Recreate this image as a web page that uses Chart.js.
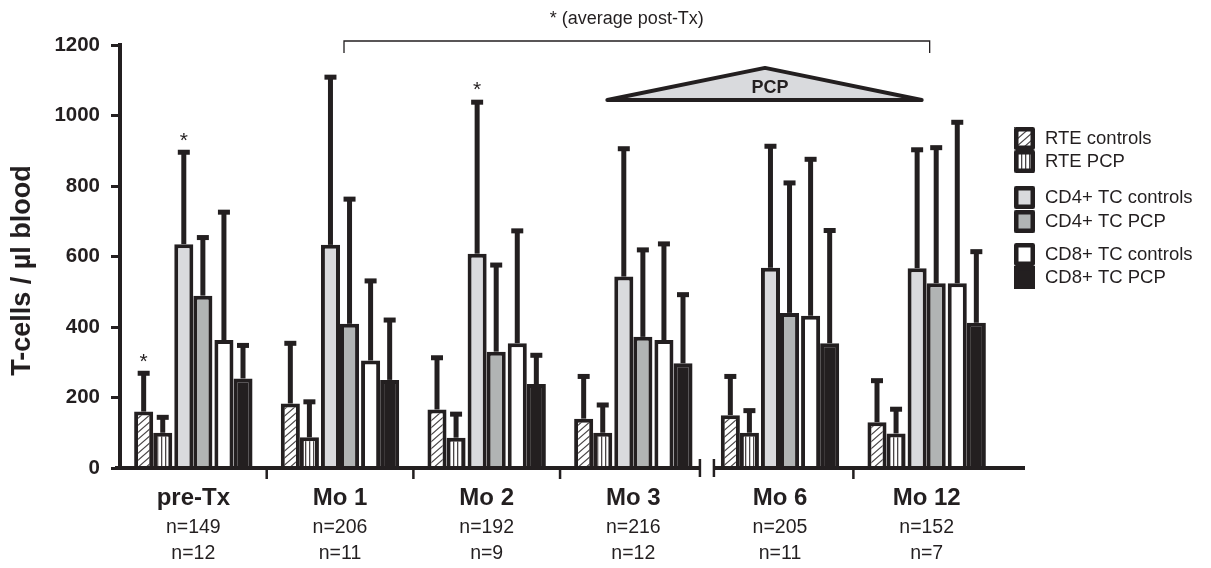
<!DOCTYPE html>
<html>
<head>
<meta charset="utf-8">
<script src="https://cdn.jsdelivr.net/npm/chart.js@4.4.0/dist/chart.umd.min.js"></script>
<style>
  html, body { margin: 0; padding: 0; background: #fff; }
  canvas { display: block; }
</style>
</head>
<body>
<canvas id="tcellBars" width="1211" height="568"></canvas>
<script>
const timepoints = ['pre-Tx', 'Mo 1', 'Mo 2', 'Mo 3', 'Mo 6', 'Mo 12'];
const nControls = ['n=149', 'n=206', 'n=192', 'n=216', 'n=205', 'n=152'];
const nPcp = ['n=12', 'n=11', 'n=9', 'n=12', 'n=11', 'n=7'];

// mean cells / µl
const rteControls = [160, 183, 166, 140, 150, 130];
const rtePcp = [100, 87, 86, 100, 100, 98];
const cd4Controls = [635, 633, 608, 543, 568, 567];
const cd4Pcp = [489, 409, 330, 372, 440, 524];
const cd8Controls = [363, 305, 354, 363, 432, 524];
const cd8Pcp = [254, 250, 238, 297, 354, 412];

// upper end of the error bars
const rteControlsTop = [273, 358, 317, 264, 264, 252];
const rtePcpTop = [148, 192, 157, 183, 167, 171];
const cd4ControlsTop = [900, 1113, 1042, 910, 917, 907];
const cd4PcpTop = [658, 767, 580, 623, 813, 913];
const cd8ControlsTop = [730, 535, 677, 640, 880, 985];
const cd8PcpTop = [352, 424, 324, 496, 678, 618];

// significance stars: [series, timepoint]
const stars = [[0, 0], [2, 0], [2, 2]];

const INK = '#231f20';
const FONT = "'Liberation Sans', Arial, Helvetica, sans-serif";

function makePattern(kind) {
    const c = document.createElement('canvas');
    const g = c.getContext('2d');
    if (kind === 'diag') {
        c.width = 8; c.height = 7;
        g.fillStyle = '#fff';
        g.fillRect(0, 0, 8, 7);
        g.strokeStyle = '#4a4647';
        g.lineWidth = 1.2;
        g.beginPath();
        g.moveTo(0, 7); g.lineTo(8, 0);
        g.moveTo(-1, 1); g.lineTo(1, -1);
        g.moveTo(7, 8); g.lineTo(9, 6);
        g.stroke();
    } else {
        c.width = 4; c.height = 4;
        g.fillStyle = '#fff';
        g.fillRect(0, 0, 4, 4);
        g.fillStyle = '#4a4647';
        g.fillRect(1, 0, 1.3, 4);
    }
    return g.createPattern(c, 'repeat');
}

const diagFill = makePattern('diag');
const vertFill = makePattern('vert');

const datasets = [
    { label: 'RTE controls', data: rteControls, errTop: rteControlsTop, backgroundColor: diagFill },
    { label: 'RTE PCP', data: rtePcp, errTop: rtePcpTop, backgroundColor: vertFill },
    { label: 'CD4+ TC controls', data: cd4Controls, errTop: cd4ControlsTop, backgroundColor: '#d9dadd' },
    { label: 'CD4+ TC PCP', data: cd4Pcp, errTop: cd4PcpTop, backgroundColor: '#b1b4b4' },
    { label: 'CD8+ TC controls', data: cd8Controls, errTop: cd8ControlsTop, backgroundColor: '#ffffff' },
    { label: 'CD8+ TC PCP', data: cd8Pcp, errTop: cd8PcpTop, backgroundColor: INK }
].map(d => Object.assign(d, {
    borderColor: INK,
    borderWidth: 4,
    borderSkipped: 'bottom',
    barPercentage: 1,
    categoryPercentage: 0.78,
    inflateAmount: 0
}));

// nudge the three pairs apart a little (pairs touch, small gap between pairs)
const pairGap = {
    id: 'pairGap',
    afterDatasetsUpdate(chart) {
        const shift = [-2, -2, 0, 0, 2, 2];
        chart.data.datasets.forEach((ds, i) => {
            chart.getDatasetMeta(i).data.forEach(bar => { bar.x += shift[i]; });
        });
    }
};

// error bars + stars
const errorBars = {
    id: 'errorBars',
    afterDatasetsDraw(chart) {
        const ctx = chart.ctx;
        const y = chart.scales.y;
        ctx.save();
        ctx.fillStyle = INK;
        chart.data.datasets.forEach((ds, i) => {
            chart.getDatasetMeta(i).data.forEach((bar, j) => {
                const top = y.getPixelForValue(ds.errTop[j]);
                ctx.fillRect(bar.x - 2.5, top, 5, bar.y - top);
                ctx.fillRect(bar.x - 6, top - 1, 12, 5);
            });
        });
        ctx.font = '21px ' + FONT;
        ctx.textAlign = 'center';
        ctx.textBaseline = 'middle';
        stars.forEach(([i, j]) => {
            const bar = chart.getDatasetMeta(i).data[j];
            const top = y.getPixelForValue(chart.data.datasets[i].errTop[j]);
            ctx.fillText('*', bar.x, top - 10);
        });
        ctx.restore();
    }
};

// x axis with break, tick marks and n= lines, y title
const axisDecor = {
    id: 'axisDecor',
    afterDatasetsDraw(chart) {
        const ctx = chart.ctx;
        const x = chart.scales.x;
        const area = chart.chartArea;
        const base = area.bottom;
        const cx = i => x.getPixelForValue(i);
        const brk = (cx(3) + cx(4)) / 2;
        ctx.save();
        ctx.fillStyle = INK;
        ctx.fillRect(area.left - 5, base - 2, brk - 7 - area.left + 5, 4);
        ctx.fillRect(brk + 7, base - 2, area.right + 25 - brk - 7, 4);
        ctx.fillRect(brk - 8, base - 9, 2.5, 18);
        ctx.fillRect(brk + 6, base - 9, 2.5, 18);
        [0, 1, 2, 4].forEach(i => {
            const bx = (cx(i) + cx(i + 1)) / 2;
            ctx.fillRect(bx - 1.2, base, 2.5, 11);
        });
        ctx.font = '19.5px ' + FONT;
        ctx.textAlign = 'center';
        ctx.textBaseline = 'middle';
        timepoints.forEach((t, i) => {
            ctx.fillText(nControls[i], cx(i), 528);
            ctx.fillText(nPcp[i], cx(i), 554);
        });

        ctx.translate(23, (area.top + area.bottom) / 2 + 14);
        ctx.rotate(-Math.PI / 2);
        ctx.font = 'bold 27px ' + FONT;
        ctx.fillText('T-cells / µl blood', 0, 0);
        ctx.restore();
    }
};

// bracket, PCP wedge and legend
const annotations = {
    id: 'annotations',
    afterDraw(chart) {
        const ctx = chart.ctx;
        const x = chart.scales.x;
        const y = chart.scales.y;
        const top = chart.chartArea.top;
        ctx.save();
        ctx.strokeStyle = INK;
        ctx.fillStyle = INK;

        const bl = x.getPixelForValue(1) + 4;
        const br = x.getPixelForValue(5) + 3;
        ctx.lineWidth = 1.3;
        ctx.beginPath();
        ctx.moveTo(bl, top + 8);
        ctx.lineTo(bl, top - 4);
        ctx.lineTo(br, top - 4);
        ctx.lineTo(br, top + 8);
        ctx.stroke();
        ctx.font = '18px ' + FONT;
        ctx.textAlign = 'center';
        ctx.textBaseline = 'middle';
        ctx.fillText('* (average post-Tx)', (bl + br) / 2 - 10, top - 26);

        const tl = x.getPixelForValue(3) - 26;
        const tr = x.getPixelForValue(5) - 5;
        const apexX = x.getPixelForValue(4) - 15;
        const apexY = y.getPixelForValue(1135);
        const baseY = y.getPixelForValue(1044);
        ctx.beginPath();
        ctx.moveTo(tl, baseY);
        ctx.lineTo(apexX, apexY);
        ctx.lineTo(tr, baseY);
        ctx.closePath();
        ctx.fillStyle = '#d9dadd';
        ctx.fill();
        ctx.lineWidth = 4;
        ctx.lineJoin = 'round';
        ctx.stroke();
        ctx.fillStyle = INK;
        ctx.font = 'bold 18px ' + FONT;
        ctx.fillText('PCP', apexX + 5, baseY - 12);

        // legend
        const rows = [138, 161, 197, 221, 254, 277];
        ctx.font = '18.5px ' + FONT;
        ctx.textAlign = 'left';
        chart.data.datasets.forEach((ds, i) => {
            const cy = rows[i];
            ctx.fillStyle = ds.backgroundColor;
            ctx.fillRect(1014, cy - 11, 21, 23);
            ctx.lineWidth = 4.5;
            ctx.strokeStyle = INK;
            ctx.strokeRect(1014 + 2.25, cy - 11 + 2.25, 21 - 4.5, 23 - 4.5);
            ctx.fillStyle = INK;
            ctx.fillText(ds.label, 1045, cy + 1);
        });
        ctx.restore();
    }
};

new Chart(document.getElementById('tcellBars'), {
    type: 'bar',
    data: { labels: timepoints, datasets: datasets },
    options: {
        responsive: false,
        animation: false,
        devicePixelRatio: 1,
        layout: { padding: { left: 0, top: 45, right: 211, bottom: 0 } },
        plugins: { legend: { display: false }, tooltip: { enabled: false } },
        scales: {
            x: {
                grid: { display: false, drawTicks: false },
                border: { display: false },
                ticks: {
                    color: INK,
                    padding: 16,
                    font: { family: FONT, size: 24, weight: 'bold' }
                },
                afterFit: s => { s.height = 100; }
            },
            y: {
                min: 0,
                max: 1200,
                grid: { drawOnChartArea: false, drawTicks: true, tickLength: 9, tickWidth: 3, color: INK },
                border: { display: true, width: 4, color: INK },
                ticks: {
                    stepSize: 200,
                    color: INK,
                    padding: 11,
                    font: { family: FONT, size: 20.5, weight: 'bold' },
                    callback: v => String(v)
                },
                afterFit: s => { s.width = 120; }
            }
        }
    },
    plugins: [pairGap, errorBars, axisDecor, annotations]
});
</script>
</body>
</html>
